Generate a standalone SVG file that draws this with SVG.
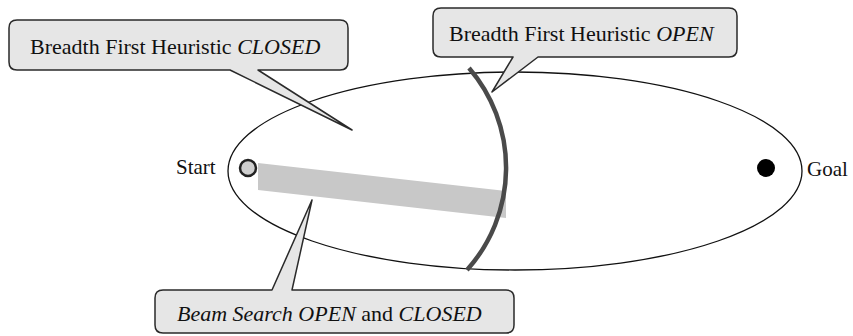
<svg xmlns="http://www.w3.org/2000/svg" width="853" height="336" viewBox="0 0 853 336">
<style>
.call{fill:#e6e6e6;stroke:#2a2a2a;stroke-width:1.5;stroke-linejoin:round}
text{font-family:"Liberation Serif","Times New Roman",serif;fill:#111}
.t{font-size:22px}
.lbl{font-size:21px}
.i{font-style:italic}
</style>
<rect width="853" height="336" fill="#fff"/>
<g id="space">
<ellipse cx="515" cy="171" rx="287" ry="99" fill="none" stroke="#111" stroke-width="1.3"/>
</g>
<g id="beam">
<polygon points="258,163 506,191 506,218 258,190" fill="#c8c8c8"/>
</g>
<g id="frontier">
<path d="M 469 68 A 153 153 0 0 1 467 270" fill="none" stroke="#4a4a4a" stroke-width="4.5"/>
</g>
<g id="start">
<circle cx="248" cy="168" r="8" fill="#cfcfcf" stroke="#222" stroke-width="2.5"/>
<text class="lbl" x="176" y="174">Start</text>
</g>
<g id="goal">
<circle cx="766" cy="168" r="9" fill="#000"/>
<text class="lbl" x="807" y="176">Goal</text>
</g>
<g id="connectors"></g>
<g id="callout-closed">
<path class="call" d="M 17 20 H 340 Q 348 20 348 28 V 62 Q 348 70 340 70 H 258 L 352 130 L 230 70 H 17 Q 9 70 9 62 V 28 Q 9 20 17 20 Z"/>
<text class="t" x="30" y="54">Breadth First Heuristic <tspan class="i">CLOSED</tspan></text>
</g>
<g id="callout-open">
<path class="call" d="M 441 8 H 729 Q 737 8 737 16 V 49 Q 737 57 729 57 H 538 L 492 92 L 513 57 H 441 Q 433 57 433 49 V 16 Q 433 8 441 8 Z"/>
<text class="t" x="449" y="41">Breadth First Heuristic <tspan class="i">OPEN</tspan></text>
</g>
<g id="callout-beam">
<path class="call" d="M 163 290 H 272 L 312 200 L 292 290 H 506 Q 514 290 514 298 V 325 Q 514 333 506 333 H 163 Q 155 333 155 325 V 298 Q 155 290 163 290 Z"/>
<text class="t" x="177" y="321"><tspan class="i">Beam Search OPEN</tspan> and <tspan class="i">CLOSED</tspan></text>
</g>
</svg>
